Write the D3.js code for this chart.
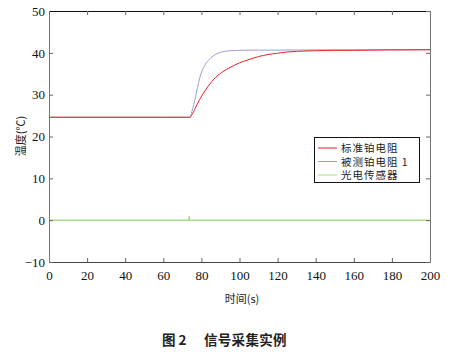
<!DOCTYPE html>
<html lang="zh">
<head>
<meta charset="UTF-8"/>
<title>信号采集实例</title>
<script src="https://d3js.org/d3.v7.min.js"></script>
<style>
    body { margin: 0; background: #fff; }
    .tick text { font-family: "Liberation Serif", "DejaVu Serif", serif; font-size: 13px; fill: #111; }
    .cjk { font-family: "Noto Sans CJK SC", sans-serif; fill: #222; }
</style>
</head>
<body>
<div id="chart"></div>
<script>
    // series
    var stdTime  = [0, 20, 40, 60, 74, 75, 76, 77, 79, 82, 85, 90, 95, 100, 105, 110, 115, 120, 125, 130, 140, 150, 160, 170, 180, 190, 200];
    var stdTemp  = [24.6, 24.6, 24.6, 24.6, 24.6, 25.2, 26.0, 27.0, 28.8, 31.0, 32.9, 35.1, 36.5, 37.6, 38.4, 39.1, 39.6, 39.9, 40.2, 40.35, 40.5, 40.6, 40.6, 40.65, 40.7, 40.7, 40.75];
    var testTime = [0, 20, 40, 60, 74, 75, 76, 77, 79, 82, 85, 90, 95, 100, 110, 120, 140, 160, 180, 200];
    var testTemp = [24.6, 24.6, 24.6, 24.6, 24.6, 26.0, 27.6, 29.6, 33.8, 37.2, 38.8, 40.1, 40.5, 40.6, 40.65, 40.65, 40.7, 40.7, 40.75, 40.75];
    var photoTime = [0, 73.3, 73.6, 73.9, 200];
    var photoVal  = [0, 0, 0.9, 0, 0];

    var xTicks = [0, 20, 40, 60, 80, 100, 120, 140, 160, 180, 200];
    var yTicks = [-10, 0, 10, 20, 30, 40, 50];
    var legendNames = ["标准铂电阻", "被测铂电阻 1", "光电传感器"];
    var colors = ["#e8202a", "#9c9cd4", "#a8dc8c"];

    var w = 454, h = 352;
    var mLeft = 49, mRight = 430, mTop = 11, mBottom = 262;

    var svg = d3.select("#chart").append("svg")
        .attr("width", w).attr("height", h);

    var x = d3.scaleLinear().domain([0, 200]).range([mLeft, mRight]);
    var y = d3.scaleLinear().domain([-10, 50]).range([mBottom, mTop]);

    function zip(ts, vs) { return ts.map((t, i) => [t, vs[i]]); }
    var series = [zip(stdTime, stdTemp), zip(testTime, testTemp), zip(photoTime, photoVal)];

    var line = d3.line()
        .x(d => x(d[0]))
        .y(d => y(d[1]))
        .curve(d3.curveMonotoneX);

    // draw green first, then blue, red on top
    [2, 1, 0].forEach(i => {
        svg.append("path")
            .datum(series[i])
            .attr("fill", "none")
            .attr("stroke", colors[i])
            .attr("stroke-width", i == 2 ? 1.5 : 1)
            .attr("d", line);
    });

    // axes, ticks pointing inward
    var gx = svg.append("g")
        .attr("transform", `translate(0, ${mBottom})`)
        .call(d3.axisBottom(x).tickValues(xTicks).tickSizeInner(-4).tickSizeOuter(0).tickPadding(9));
    gx.select(".domain").attr("stroke", "#444");
    var gy = svg.append("g")
        .attr("transform", `translate(${mLeft}, 0)`)
        .call(d3.axisLeft(y).tickValues(yTicks).tickSizeInner(-4).tickSizeOuter(0).tickPadding(4));
    gy.select(".domain").attr("stroke", "#777");
    var gt = svg.append("g")
        .attr("transform", `translate(0, ${mTop})`)
        .call(d3.axisTop(x).tickValues(xTicks).tickSizeInner(-4).tickSizeOuter(0).tickFormat(""));
    gt.select(".domain").attr("stroke", "#111");
    var gr = svg.append("g")
        .attr("transform", `translate(${mRight}, 0)`)
        .call(d3.axisRight(y).tickValues(yTicks).tickSizeInner(-4).tickSizeOuter(0).tickFormat(""));
    gr.select(".domain").attr("stroke", "#777");
    svg.selectAll(".tick line").attr("stroke", "#666");
    gx.selectAll("text").attr("dy", "0.71em");

    // legend
    var lg = svg.append("g");
    lg.append("rect")
        .attr("x", 314.5).attr("y", 137.5)
        .attr("width", 105).attr("height", 45)
        .attr("fill", "#fff").attr("stroke", "#111");
    legendNames.forEach((name, i) => {
        var ly = 148 + i * 13.5;
        lg.append("line")
            .attr("x1", 318).attr("x2", 337)
            .attr("y1", ly).attr("y2", ly)
            .attr("stroke", colors[i]);
        lg.append("text")
            .attr("class", "cjk")
            .attr("x", 341).attr("y", ly + 4)
            .attr("font-size", 10.5)
            .attr("letter-spacing", 1)
            .text(name);
    });

    // axis labels
    svg.append("text")
        .attr("class", "cjk")
        .attr("transform", "translate(25, 136) rotate(-90)")
        .attr("text-anchor", "middle")
        .attr("font-size", 11)
        .text("温度(℃)");
    svg.append("text")
        .attr("class", "cjk")
        .attr("x", 242).attr("y", 303)
        .attr("text-anchor", "middle")
        .attr("font-size", 11)
        .text("时间(s)");

    // caption
    svg.append("text")
        .attr("class", "cjk")
        .attr("x", 162).attr("y", 345)
        .attr("font-size", 13.5)
        .attr("font-weight", "bold")
        .text("图 2");
    svg.append("text")
        .attr("class", "cjk")
        .attr("x", 204).attr("y", 345)
        .attr("font-size", 13.5)
        .attr("font-weight", "bold")
        .attr("letter-spacing", 0.3)
        .text("信号采集实例");
</script>
</body>
</html>
